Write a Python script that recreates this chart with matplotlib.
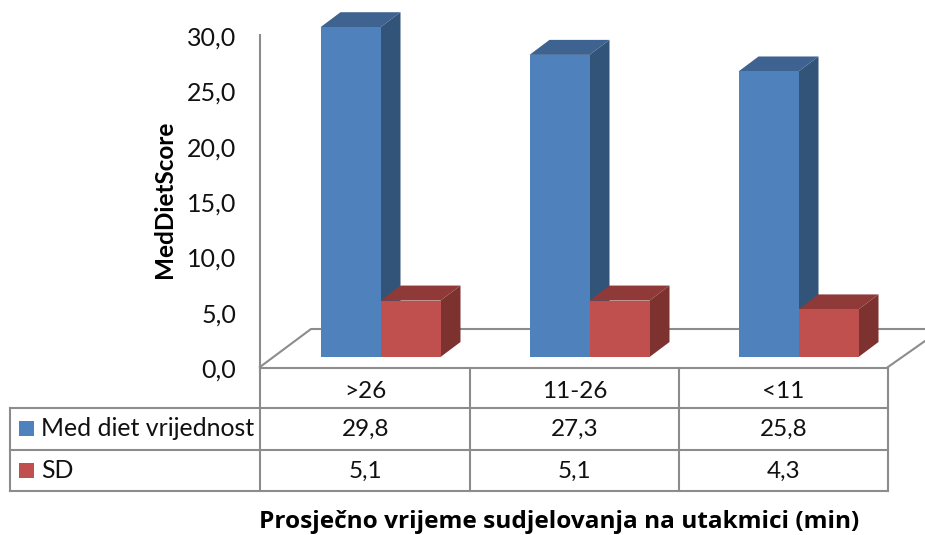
#!/usr/bin/env python3
"""Pseudo-3D column chart with a data table underneath."""

import matplotlib
matplotlib.use("Agg")
import matplotlib.pyplot as plt
from matplotlib.patches import Polygon, Rectangle
from matplotlib.transforms import ScaledTranslation

categories = [">26", "11-26", "<11"]
series_names = ["Med diet vrijednost", "SD"]
med_diet = [29.8, 27.3, 25.8]
sd = [5.1, 5.1, 4.3]
y_ticks = [0, 5, 10, 15, 20, 25, 30]

W, H = 925, 535
AXIS_L, AXIS_R, AXIS_T, AXIS_B = 261, 888, 35, 367
LINE = "#8c8c8c"
BLUE = ("#4f81bd", "#3e6391", "#325479")
RED = ("#c0504d", "#8f3a38", "#7d3230")

plt.rcParams["font.family"] = ["Lato", "DejaVu Sans"]


def comma(v, digits=1):
    return f"{v:.{digits}f}".replace(".", ",")


fig = plt.figure(figsize=(W / 100, H / 100), dpi=100, facecolor="white")

# overlay in pixel coordinates for the table and floor
px = fig.add_axes([0, 0, 1, 1], zorder=0)
px.set_xlim(0, W)
px.set_ylim(H, 0)
px.axis("off")

ax = fig.add_axes([AXIS_L / W, 1 - AXIS_B / H, (AXIS_R - AXIS_L) / W, (AXIS_B - AXIS_T) / H], zorder=1)
ax.patch.set_alpha(0)
ax.set_xlim(0, len(categories))
ax.set_ylim(0, 30)
for s in ["top", "right", "bottom"]:
    ax.spines[s].set_visible(False)
ax.spines["left"].set_color(LINE)
ax.spines["left"].set_linewidth(1.5)
ax.spines["left"].set_position(("outward", 1))
ax.set_yticks(y_ticks, [comma(v) for v in y_ticks], fontsize=18, color="#111111")
ax.tick_params(axis="y", length=0, pad=17)
ax.set_xticks([])
# tick labels sit a touch lower than the gridline position
for lab in ax.get_yticklabels():
    lab.set_transform(lab.get_transform() + ScaledTranslation(0, -0.7 / 72, fig.dpi_scale_trans))

px_x = (AXIS_R - AXIS_L) / len(categories)
px_y = (AXIS_B - AXIS_T) / 30
bar_w = 60 / px_x
bar_off = 59.5 / px_x
dx = 20 / px_x
dy = 15 / px_y
base = 10 / px_y


def bar3d(x, h, colors):
    top = base + h
    ax.add_patch(Rectangle((x, base), bar_w, h, fc=colors[0], ec="none", clip_on=False, zorder=3))
    ax.add_patch(Polygon([(x, top), (x + bar_w, top), (x + bar_w + dx, top + dy), (x + dx, top + dy)],
                         fc=colors[1], ec="none", clip_on=False, zorder=2))
    ax.add_patch(Polygon([(x + bar_w, base), (x + bar_w + dx, base + dy), (x + bar_w + dx, top + dy), (x + bar_w, top)],
                         fc=colors[2], ec="none", clip_on=False, zorder=2))


for i, (m, s) in enumerate(zip(med_diet, sd)):
    bar3d(i + bar_off, m, BLUE)
    bar3d(i + bar_off + bar_w, s, RED)

# floor
px.plot([260, 311, 925], [367, 329, 329], color=LINE, lw=1.5, solid_joinstyle="miter")
px.plot([888, 925], [367, 341], color=LINE, lw=1.5)

# table
rows_y = [367.5, 408, 450, 491]
col_x = [AXIS_L + px_x * i for i in range(len(categories) + 1)]
px.plot([260, 888], [rows_y[0]] * 2, color=LINE, lw=1.5)
for y in rows_y[1:]:
    px.plot([10, 888], [y, y], color=LINE, lw=1.5)
px.plot([10, 10], [408, 491], color=LINE, lw=1.5)
for x in col_x:
    px.plot([x - 1 if x == col_x[0] else x] * 2, [367.5, 491], color=LINE, lw=1.5)

for i, c in enumerate(categories):
    cx = AXIS_L + px_x * (i + 0.5)
    px.text(cx, 392, c, ha="center", va="center", fontsize=17.5, color="#111111")
    px.text(cx, 429, comma(med_diet[i]), ha="center", va="center", fontsize=17.5, color="#111111")
    px.text(cx, 471, comma(sd[i]), ha="center", va="center", fontsize=17.5, color="#111111")

for name, y, col in zip(series_names, [429, 471], [BLUE[0], RED[0]]):
    px.add_patch(Rectangle((19, y - 8), 15, 15, fc=col, ec="none"))
    px.text(41, y, name, ha="left", va="center", fontsize=17.9, color="#111111")

# axis titles
px.text(165, 199, "MedDietScore", rotation=90, ha="center", va="center",
        fontsize=17.5, fontweight="bold", color="black")
px.text(559, 522, "Prosječno vrijeme sudjelovanja na utakmici (min)", ha="center", va="center",
        fontsize=17.6, fontweight="bold", color="black", family="Open Sans")

fig.savefig("out.png", dpi=100)
